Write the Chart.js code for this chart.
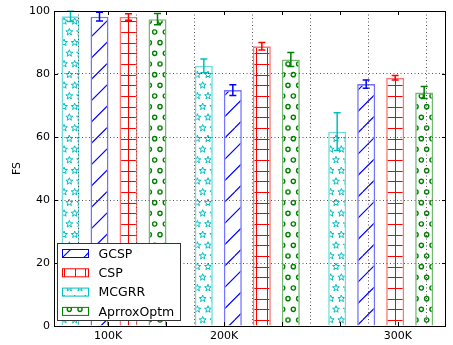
<!DOCTYPE html>
<html>
<head>
<meta charset="utf-8">
<script src="https://cdn.jsdelivr.net/npm/chart.js@4"></script>
<style>
  html, body { margin: 0; padding: 0; background: #fff; }
  #wrap { width: 453px; height: 345px; }
</style>
</head>
<body>
<div id="wrap"><canvas id="c"></canvas></div>
<script>
const groups = ['100K', '200K', '300K'];
const mcgrr = [98.3, 82.6, 61.7];
const gcsp = [98.2, 74.9, 76.8];
const csp = [98.1, 88.8, 78.8];
const approx = [97.4, 84.6, 74.1];
const mcgrrErr = [1.6, 2.2, 6.0];
const gcspErr = [1.4, 1.7, 1.3];
const cspErr = [1.0, 1.2, 0.7];
const approxErr = [1.8, 2.2, 1.9];
const xTickLabels = ['100K', '', '200K', '', '', '300K'];
const legendOrder = ['GCSP', 'CSP', 'MCGRR', 'AprroxOptm'];

const FONT = '"DejaVu Sans", sans-serif';

// hatch tiles like matplotlib (6 lines per 64px unit)
function hatch(kind, color) {
  const S = 64, d = S / 6;
  const c = document.createElement('canvas');
  c.width = S; c.height = S;
  const g = c.getContext('2d');
  g.fillStyle = '#fff';
  g.fillRect(0, 0, S, S);
  g.strokeStyle = color;
  g.lineWidth = 1;
  if (kind === '/') {
    const step = S / 3;
    g.lineWidth = 1.2;
    for (let k = -3; k <= 3; k++) {
      g.beginPath(); g.moveTo(k * step, S); g.lineTo(k * step + S, 0); g.stroke();
    }
  } else if (kind === '+') {
    for (let k = 0; k < 6; k++) {
      const p = Math.round(k * d) + 0.5;
      g.beginPath(); g.moveTo(0, p); g.lineTo(S, p); g.moveTo(p, 0); g.lineTo(p, S); g.stroke();
    }
  } else {
    g.lineWidth = kind === 'o' ? 1.4 : 1;
    for (let r = 0; r <= 6; r++) {
      const y = r * d, off = r % 2 ? d / 2 : 0;
      for (let col = -1; col <= 6; col++) {
        const x = col * d + off;
        g.beginPath();
        if (kind === 'o') {
          g.arc(x, y, 2.1, 0, Math.PI * 2);
        } else {
          for (let i = 0; i < 10; i++) {
            const rad = i % 2 ? 1.5 : 3.6;
            const a = -Math.PI / 2 + i * Math.PI / 5;
            const px = x + rad * Math.cos(a), py = y + rad * Math.sin(a);
            i ? g.lineTo(px, py) : g.moveTo(px, py);
          }
          g.closePath();
        }
        g.stroke();
      }
    }
  }
  return g.createPattern(c, 'repeat');
}

function series(label, vals, errs, color, edge, kind) {
  return {
    label,
    data: vals.map((v, i) => ({ x: i + 1, y: v })),
    errors: errs,
    errColor: color,
    backgroundColor: hatch(kind, color),
    borderColor: edge,
    borderWidth: 1.6,
    categoryPercentage: 0.87,
    barPercentage: 0.62
  };
}

const datasets = [
  series('MCGRR', mcgrr, mcgrrErr, '#00bfbf', 'rgba(0,191,191,0.55)', '*'),
  series('GCSP', gcsp, gcspErr, '#0000ff', 'rgba(0,0,255,0.55)', '/'),
  series('CSP', csp, cspErr, '#ff0000', 'rgba(255,0,0,0.55)', '+'),
  series('AprroxOptm', approx, approxErr, '#008000', 'rgba(0,128,0,0.55)', 'o')
];

const errPlugin = {
  id: 'errbars',
  afterDatasetsDraw(chart) {
    const ctx = chart.ctx, y = chart.scales.y;
    chart.data.datasets.forEach((ds, i) => {
      chart.getDatasetMeta(i).data.forEach((bar, j) => {
        const v = ds.data[j].y, e = ds.errors[j];
        const t = y.getPixelForValue(v + e), b = y.getPixelForValue(v - e);
        ctx.save();
        ctx.strokeStyle = ds.errColor;
        ctx.lineWidth = 1.5;
        ctx.beginPath();
        ctx.moveTo(bar.x, t); ctx.lineTo(bar.x, b);
        ctx.moveTo(bar.x - 3.5, t); ctx.lineTo(bar.x + 3.5, t);
        ctx.moveTo(bar.x - 3.5, b); ctx.lineTo(bar.x + 3.5, b);
        ctx.stroke();
        ctx.restore();
      });
    });
  }
};

const framePlugin = {
  id: 'frame',
  afterDraw(chart) {
    const ctx = chart.ctx, ca = chart.chartArea;
    ctx.save();
    ctx.strokeStyle = '#000';
    ctx.lineWidth = 1;
    ctx.strokeRect(ca.left + 0.5, ca.top + 0.5, ca.right - ca.left - 1, ca.bottom - ca.top);
    ctx.beginPath();
    chart.scales.y.ticks.forEach((t, i) => {
      const p = Math.round(chart.scales.y.getPixelForTick(i)) + 0.5;
      ctx.moveTo(ca.left, p); ctx.lineTo(ca.left + 4, p);
      ctx.moveTo(ca.right, p); ctx.lineTo(ca.right - 4, p);
    });
    chart.scales.x2.ticks.forEach((t, i) => {
      const p = Math.round(chart.scales.x2.getPixelForTick(i)) + 0.5;
      ctx.moveTo(p, ca.top); ctx.lineTo(p, ca.top + 4);
      ctx.moveTo(p, ca.bottom); ctx.lineTo(p, ca.bottom - 4);
    });
    ctx.stroke();

    // legend box, bottom left inside the axes
    const lx = ca.left + 3.5, lw = 123, lh = 77, ly = ca.bottom - 6 - lh + 0.5;
    ctx.fillStyle = '#fff';
    ctx.fillRect(lx, ly, lw, lh);
    ctx.strokeStyle = '#333';
    ctx.strokeRect(lx, ly, lw, lh);
    ctx.font = '12.5px ' + FONT;
    ctx.textBaseline = 'middle';
    legendOrder.forEach((name, k) => {
      const ds = chart.data.datasets.find(d => d.label === name);
      const cy = ly + 10 + k * 19.3;
      ctx.fillStyle = ds.backgroundColor;
      ctx.fillRect(lx + 5, cy - 4, 26, 8);
      ctx.strokeStyle = ds.errColor;
      ctx.lineWidth = 1;
      ctx.strokeRect(lx + 5, cy - 4, 26, 8);
      ctx.fillStyle = '#000';
      ctx.fillText(name, lx + 41, cy + 1);
    });
    ctx.restore();
  }
};

const gridOpts = { z: 1, color: '#555', lineWidth: 1, drawTicks: false };
const borderOpts = { display: false, dash: [1, 2.5] };

new Chart(document.getElementById('c'), {
  type: 'bar',
  data: { labels: groups, datasets },
  options: {
    responsive: true,
    maintainAspectRatio: false,
    animation: false,
    layout: { padding: { left: 0, right: 7, top: 11, bottom: 0 } },
    plugins: { legend: { display: false }, tooltip: { enabled: false } },
    scales: {
      x: {
        type: 'linear',
        display: false,
        offset: false,
        min: 0.55,
        max: 3.49,
        afterBuildTicks: s => { s.ticks = groups.map((g, i) => ({ value: i + 1 })); }
      },
      x2: {
        type: 'linear',
        position: 'bottom',
        offset: false,
        min: 0.069,
        max: 6.828,
        afterBuildTicks: s => { s.ticks = xTickLabels.map((l, i) => ({ value: i + 1 })); },
        afterFit: s => { s.height = 19; },
        border: borderOpts,
        grid: gridOpts,
        ticks: {
          padding: 4, color: '#000', font: { family: FONT, size: 11 },
          maxRotation: 0, autoSkip: false,
          callback: v => xTickLabels[Math.round(v) - 1] || ''
        }
      },
      y: {
        min: 0,
        max: 100,
        afterFit: s => { s.width = 54; },
        border: borderOpts,
        grid: gridOpts,
        ticks: { stepSize: 20, padding: 4, color: '#000', font: { family: FONT, size: 11 } },
        title: { display: true, text: 'FS', color: '#000', font: { family: FONT, size: 11 }, padding: { top: 11, bottom: 0 } }
      }
    }
  },
  plugins: [errPlugin, framePlugin]
});
</script>
</body>
</html>
